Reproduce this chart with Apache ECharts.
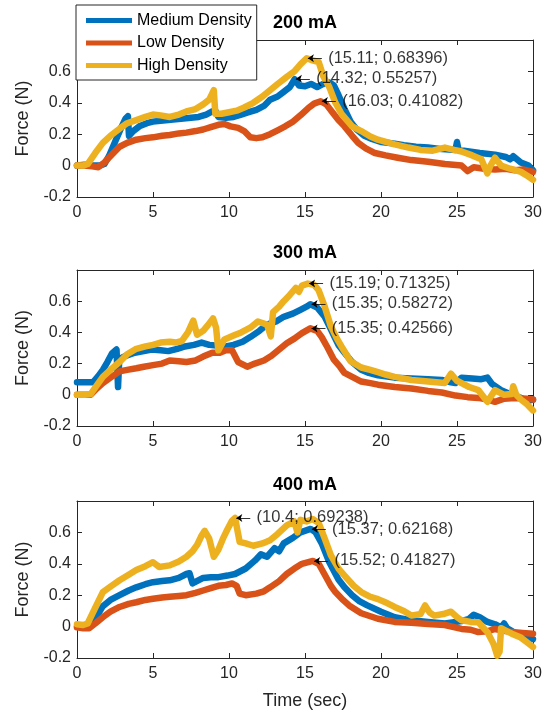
<!DOCTYPE html>
<html>
<head>
<meta charset="utf-8">
<script src="https://cdn.jsdelivr.net/npm/echarts@6/dist/echarts.min.js"></script>
<style>html,body{margin:0;padding:0;background:#fff;}#c{width:549px;height:720px;}</style>
</head>
<body>
<div id="c"></div>
<script>
// ---------- data ----------
var panelTitles = ['200 mA', '300 mA', '400 mA'];
var seriesNames = ['Medium Density', 'Low Density', 'High Density'];
var xTicks = [0, 5, 10, 15, 20, 25, 30];
var yTicks = [-0.2, 0, 0.2, 0.4, 0.6, 0.8];

var med200 = [[0,0.0],[0.5,0.005],[1,0.0],[1.5,0.0],[1.8,0.01],[2.1,0.06],[2.5,0.15],[2.9,0.24],[3.2,0.3],[3.35,0.315],[3.42,0.19],[3.7,0.22],[4.1,0.25],[4.6,0.27],[5,0.28],[5.5,0.285],[6,0.29],[6.5,0.295],[7,0.3],[7.5,0.305],[8,0.31],[8.5,0.325],[8.9,0.345],[9.1,0.35],[9.3,0.31],[9.8,0.305],[10.3,0.31],[10.8,0.325],[11.3,0.34],[11.8,0.355],[12.3,0.38],[12.7,0.42],[13.2,0.44],[13.6,0.47],[14,0.5],[14.32,0.55],[14.6,0.51],[15,0.505],[15.4,0.52],[15.8,0.5],[16.2,0.52],[16.6,0.53],[16.9,0.51],[17.2,0.45],[17.6,0.36],[18,0.28],[18.4,0.23],[18.9,0.19],[19.4,0.17],[20,0.15],[20.9,0.14],[21.5,0.13],[22.3,0.12],[23.1,0.115],[24,0.105],[24.9,0.1],[25.0,0.15],[25.1,0.1],[25.8,0.09],[26.5,0.08],[27.5,0.07],[28.2,0.055],[28.5,0.04],[28.7,0.06],[29.2,0.02],[29.7,0.0],[30,-0.03]];
var low200 = [[0,0.0],[0.5,0.0],[1,-0.005],[1.4,-0.01],[1.8,0.02],[2.3,0.07],[2.8,0.12],[3.3,0.145],[3.9,0.165],[4.5,0.175],[5,0.18],[5.6,0.19],[6.1,0.195],[6.7,0.205],[7.2,0.21],[7.8,0.22],[8.3,0.23],[8.8,0.245],[9.3,0.26],[9.7,0.265],[10.1,0.25],[10.6,0.24],[11.0,0.22],[11.4,0.18],[11.8,0.175],[12.2,0.18],[12.7,0.2],[13.2,0.225],[13.7,0.25],[14.2,0.28],[14.7,0.32],[15.2,0.365],[15.6,0.395],[16.03,0.41],[16.4,0.39],[16.8,0.34],[17.2,0.29],[17.6,0.25],[18.1,0.19],[18.5,0.145],[19,0.11],[19.6,0.08],[20.3,0.065],[21.1,0.05],[22,0.035],[23.1,0.025],[24.2,0.01],[25.3,0.0],[25.7,-0.035],[26.1,-0.01],[26.8,-0.02],[27.5,-0.025],[28.2,-0.02],[28.8,-0.03],[29.4,-0.025],[30,-0.04]];
var high200 = [[0,0.0],[0.4,0.0],[0.7,0.01],[1.2,0.08],[1.7,0.145],[2.2,0.19],[2.8,0.235],[3.3,0.27],[3.9,0.29],[4.5,0.31],[5,0.325],[5.5,0.32],[6.1,0.31],[6.7,0.325],[7.2,0.345],[7.8,0.36],[8.3,0.39],[8.7,0.42],[9.0,0.48],[9.1,0.33],[9.5,0.33],[10,0.34],[10.5,0.35],[11,0.37],[11.6,0.4],[12.2,0.44],[12.7,0.48],[13.2,0.52],[13.8,0.565],[14.3,0.6],[14.7,0.645],[15.11,0.684],[15.5,0.67],[15.9,0.66],[16.2,0.57],[16.6,0.5],[17,0.4],[17.4,0.33],[18.1,0.25],[18.7,0.22],[19.3,0.185],[19.8,0.165],[20.9,0.135],[21.8,0.115],[22.6,0.1],[23.4,0.095],[24.2,0.115],[24.8,0.1],[25.3,0.09],[26,0.065],[26.6,0.04],[27,-0.05],[27.2,0.0],[27.5,0.05],[27.9,0.0],[28.5,-0.02],[29.2,-0.04],[29.7,-0.07],[30,-0.09]];

var med300 = [[0,0.08],[0.5,0.08],[1.05,0.08],[1.4,0.12],[1.7,0.16],[2.0,0.21],[2.3,0.265],[2.6,0.29],[2.7,0.05],[2.78,0.23],[3.2,0.25],[3.8,0.27],[4.4,0.28],[4.9,0.29],[5.5,0.285],[6,0.28],[6.6,0.295],[7.1,0.31],[7.7,0.32],[8.2,0.335],[8.7,0.32],[9.3,0.315],[9.8,0.31],[10.3,0.32],[10.9,0.34],[11.4,0.37],[12,0.41],[12.5,0.45],[13.1,0.47],[13.6,0.5],[14.2,0.52],[14.7,0.545],[15.1,0.565],[15.35,0.58],[15.8,0.56],[16.3,0.5],[16.6,0.44],[16.9,0.38],[17.2,0.32],[17.6,0.27],[18.1,0.21],[18.7,0.16],[19.2,0.14],[19.8,0.125],[20.9,0.11],[22,0.105],[23.1,0.1],[24,0.095],[24.6,0.08],[24.9,0.075],[25.3,0.11],[26,0.105],[26.6,0.1],[27,0.11],[27.3,0.07],[27.9,0.03],[28.6,0.0],[29.2,-0.02],[29.6,-0.04],[30,-0.03]];
var low300 = [[0,0.0],[0.5,0.0],[0.9,0.0],[1.3,0.04],[1.7,0.075],[2.2,0.11],[2.8,0.15],[3.3,0.16],[3.9,0.17],[4.4,0.18],[5,0.19],[5.6,0.2],[6.1,0.22],[6.7,0.215],[7.2,0.21],[7.8,0.22],[8.3,0.245],[8.9,0.27],[9.4,0.27],[9.8,0.285],[10.2,0.285],[10.6,0.21],[11.2,0.18],[11.7,0.2],[12.3,0.22],[12.8,0.25],[13.3,0.29],[13.8,0.33],[14.3,0.36],[14.8,0.395],[15.35,0.426],[15.8,0.41],[16.1,0.37],[16.5,0.3],[16.9,0.225],[17.3,0.18],[17.6,0.14],[18.2,0.11],[18.7,0.085],[19.3,0.075],[19.8,0.065],[20.9,0.05],[22,0.04],[23.1,0.025],[24,0.015],[24.9,-0.005],[25.7,-0.015],[26.4,-0.02],[27,-0.03],[27.5,-0.045],[28.1,-0.025],[28.8,-0.02],[29.6,-0.025],[30,-0.03]];
var high300 = [[0,0.0],[0.5,0.0],[0.9,0.005],[1.3,0.06],[1.7,0.115],[2.2,0.16],[2.8,0.21],[3.3,0.26],[3.9,0.295],[4.5,0.31],[5,0.32],[5.5,0.335],[6.1,0.34],[6.5,0.335],[6.9,0.345],[7.3,0.4],[7.65,0.475],[7.9,0.385],[8.3,0.41],[8.6,0.445],[8.95,0.49],[9.15,0.43],[9.3,0.285],[9.7,0.355],[10.3,0.38],[10.8,0.4],[11.4,0.43],[11.9,0.47],[12.2,0.46],[12.5,0.45],[12.75,0.375],[12.9,0.53],[13.3,0.565],[13.6,0.6],[14,0.64],[14.4,0.685],[14.6,0.66],[14.8,0.7],[15.19,0.713],[15.6,0.705],[15.9,0.67],[16.3,0.565],[16.7,0.44],[17.1,0.36],[17.4,0.31],[18,0.215],[18.7,0.175],[19.3,0.16],[19.8,0.145],[20.3,0.13],[20.9,0.115],[22,0.095],[23.1,0.085],[24.2,0.075],[24.6,0.135],[25,0.09],[25.3,0.075],[25.8,0.05],[26.4,0.03],[27,-0.045],[27.5,0.03],[28.1,0.0],[28.6,0.005],[28.7,0.055],[28.9,0.0],[29.2,-0.03],[29.6,-0.06],[30,-0.1]];

var med400 = [[0,0.0],[0.4,0.005],[0.8,0.0],[1.2,0.05],[1.7,0.13],[2.2,0.17],[2.8,0.2],[3.4,0.23],[3.9,0.25],[4.5,0.27],[5,0.283],[5.6,0.29],[6.1,0.295],[6.7,0.31],[7.2,0.335],[7.4,0.34],[7.6,0.275],[8.3,0.31],[8.8,0.315],[9.3,0.315],[9.9,0.325],[10.4,0.335],[11.1,0.37],[11.7,0.42],[12.1,0.46],[12.5,0.445],[13,0.5],[13.3,0.48],[13.6,0.53],[14.2,0.565],[14.7,0.6],[15.37,0.622],[15.7,0.6],[16.1,0.53],[16.6,0.41],[17.2,0.3],[17.6,0.25],[18.1,0.2],[18.6,0.16],[19.1,0.135],[20,0.095],[20.9,0.06],[22,0.04],[23.1,0.03],[24.2,0.02],[25.3,0.035],[25.8,0.05],[26.1,0.075],[26.5,0.06],[27,0.03],[27.5,0.015],[27.9,-0.005],[28.1,0.02],[28.3,-0.01],[28.8,-0.04],[29.2,-0.065],[30,-0.08]];
var low400 = [[0,-0.005],[0.4,-0.01],[0.8,-0.01],[1.2,0.02],[1.7,0.06],[2.2,0.095],[2.8,0.125],[3.4,0.145],[3.9,0.155],[4.5,0.17],[5,0.177],[5.6,0.185],[6.1,0.19],[6.7,0.195],[7.2,0.2],[7.8,0.215],[8.3,0.23],[8.8,0.245],[9.3,0.26],[9.8,0.265],[10.2,0.275],[10.5,0.26],[10.7,0.21],[11.1,0.2],[11.8,0.21],[12.3,0.225],[12.7,0.25],[13.3,0.29],[13.8,0.335],[14.3,0.37],[14.8,0.4],[15.52,0.418],[15.9,0.4],[16.3,0.33],[16.7,0.26],[17,0.22],[17.5,0.17],[17.9,0.135],[18.7,0.085],[19.8,0.05],[20.9,0.03],[22,0.025],[23.1,0.017],[24.2,0.01],[25.3,-0.015],[25.9,-0.02],[26.4,-0.035],[27,-0.03],[27.5,-0.015],[28,-0.025],[28.6,-0.035],[29.3,-0.04],[30,-0.045]];
var high400 = [[0,0.015],[0.4,0.01],[0.7,0.02],[1.0,0.08],[1.4,0.16],[1.7,0.22],[2.2,0.255],[2.8,0.295],[3.4,0.33],[3.9,0.36],[4.5,0.385],[5,0.41],[5.4,0.38],[6.1,0.39],[6.7,0.415],[7.2,0.445],[7.6,0.48],[7.9,0.52],[8.2,0.58],[8.4,0.61],[8.7,0.56],[9.0,0.445],[9.3,0.49],[9.6,0.56],[9.9,0.62],[10.2,0.675],[10.4,0.692],[10.7,0.54],[11.1,0.53],[11.6,0.515],[12.2,0.53],[12.7,0.55],[13.2,0.59],[13.8,0.645],[14.3,0.67],[14.5,0.6],[14.7,0.68],[15.1,0.67],[15.5,0.685],[15.9,0.66],[16.3,0.56],[16.7,0.455],[17.2,0.37],[17.6,0.325],[18.2,0.26],[18.7,0.22],[19.3,0.19],[19.8,0.175],[20.4,0.15],[20.9,0.125],[21.5,0.1],[22,0.07],[22.6,0.08],[22.9,0.135],[23.2,0.09],[23.5,0.07],[24.1,0.08],[24.6,0.095],[25,0.06],[25.3,0.04],[25.9,0.03],[26.4,0.028],[27,-0.035],[27.4,-0.11],[27.65,-0.185],[27.8,-0.16],[27.9,-0.01],[28.3,-0.03],[28.6,-0.045],[29.2,-0.07],[29.6,-0.1],[30,-0.13]];

var tips200 = [[15.11, 0.68396], [14.32, 0.55257], [16.03, 0.41082]];
var tips300 = [[15.19, 0.71325], [15.35, 0.58272], [15.35, 0.42566]];
var tips400 = [[10.4, 0.69238], [15.37, 0.62168], [15.52, 0.41827]];

// ---------- chart ----------
var panelData = [[med200, low200, high200], [med300, low300, high300], [med400, low400, high400]];
var panelTips = [tips200, tips300, tips400];
var colors = ['#0072BD', '#D95319', '#EDB120'];
var FONT = '"Liberation Sans", Arial, Helvetica, sans-serif';
var AX = '#262626';
var grids = [
  {left: 77, right: 16, top: 40, height: 157},
  {left: 77, right: 16, top: 270, height: 156},
  {left: 77, right: 16, top: 501, height: 157}
];
var titleCenters = [24, 254, 486];

var xAxes = [], yAxes = [], series = [], titles = [];
grids.forEach(function (g, i) {
  var baseX = {
    type: 'value', gridIndex: i, min: xTicks[0], max: xTicks[xTicks.length - 1], interval: 5,
    axisLine: {show: true, onZero: false, lineStyle: {color: AX, width: 1}},
    axisTick: {show: true, inside: true, length: 5, lineStyle: {color: AX}},
    splitLine: {show: false}
  };
  xAxes.push(Object.assign({}, baseX, {
    position: 'bottom',
    axisLabel: {show: true, color: AX, fontSize: 16, fontFamily: FONT, margin: 8},
    name: i === 2 ? 'Time (sec)' : '', nameLocation: 'middle', nameGap: 34,
    nameTextStyle: {color: AX, fontSize: 18, fontFamily: FONT}
  }));
  xAxes.push(Object.assign({}, baseX, {position: 'top', axisLabel: {show: false}}));
  var baseY = {
    type: 'value', gridIndex: i, min: yTicks[0], max: yTicks[yTicks.length - 1], interval: 0.2,
    axisLine: {show: true, onZero: false, lineStyle: {color: AX, width: 1}},
    axisTick: {show: true, inside: true, length: 5, lineStyle: {color: AX}},
    splitLine: {show: false}
  };
  yAxes.push(Object.assign({}, baseY, {
    position: 'left',
    axisLabel: {show: true, color: AX, fontSize: 16, fontFamily: FONT, margin: 6,
      formatter: function (v) { if (v > 0.79) return ''; return String(Math.round(v * 10) / 10); }},
    name: 'Force (N)', nameLocation: 'middle', nameGap: 38,
    nameTextStyle: {color: AX, fontSize: 18, fontFamily: FONT}
  }));
  yAxes.push(Object.assign({}, baseY, {position: 'right', axisLabel: {show: false}}));

  titles.push({
    text: panelTitles[i], left: 305, top: titleCenters[i] - 10, textAlign: 'center', padding: 0,
    textStyle: {fontSize: 18, fontWeight: 'bold', color: '#000', fontFamily: FONT}
  });

  panelData[i].forEach(function (d, k) {
    series.push({
      name: seriesNames[k], type: 'line', xAxisIndex: i * 2, yAxisIndex: i * 2,
      data: d, showSymbol: false, symbol: 'none', color: colors[k],
      lineStyle: {color: colors[k], width: 6.5, join: 'round', cap: 'round'},
      z: 2 + k, silent: true
    });
  });

  var tips = panelTips[i];
  series.push({
    type: 'scatter', xAxisIndex: i * 2, yAxisIndex: i * 2,
    data: tips, symbolSize: 1, itemStyle: {color: 'rgba(0,0,0,0)'}, z: 10, silent: true,
    label: {
      show: true, position: 'right', distance: 21, color: '#000', fontSize: 16.5, fontFamily: FONT,
      formatter: function (p) { return '(' + p.value[0] + '; ' + p.value[1] + ')'; }
    },
    markLine: {
      silent: true, symbol: ['none', 'arrow'], symbolSize: 6, animation: false,
      lineStyle: {color: '#000', width: 0.8, type: 'solid'},
      label: {show: false},
      data: tips.map(function (t) { return [{coord: [t[0] + 1.0, t[1]]}, {coord: [t[0] + 0.08, t[1]]}]; })
    }
  });
});

var chart = echarts.init(document.getElementById('c'), null, {renderer: 'canvas'});
chart.setOption({
  backgroundColor: '#fff',
  animation: false,
  title: titles,
  legend: {
    data: seriesNames, orient: 'vertical', left: 76, top: 5,
    icon: 'rect', itemWidth: 46, itemHeight: 5, itemGap: 4.5,
    padding: [6.5, 5, 5.5, 10],
    backgroundColor: '#fff', borderColor: AX, borderWidth: 1,
    textStyle: {fontSize: 16, color: '#000', fontFamily: FONT, lineHeight: 18},
    selectedMode: false, z: 20
  },
  grid: grids,
  xAxis: xAxes,
  yAxis: yAxes,
  series: series
});
</script>
</body>
</html>
